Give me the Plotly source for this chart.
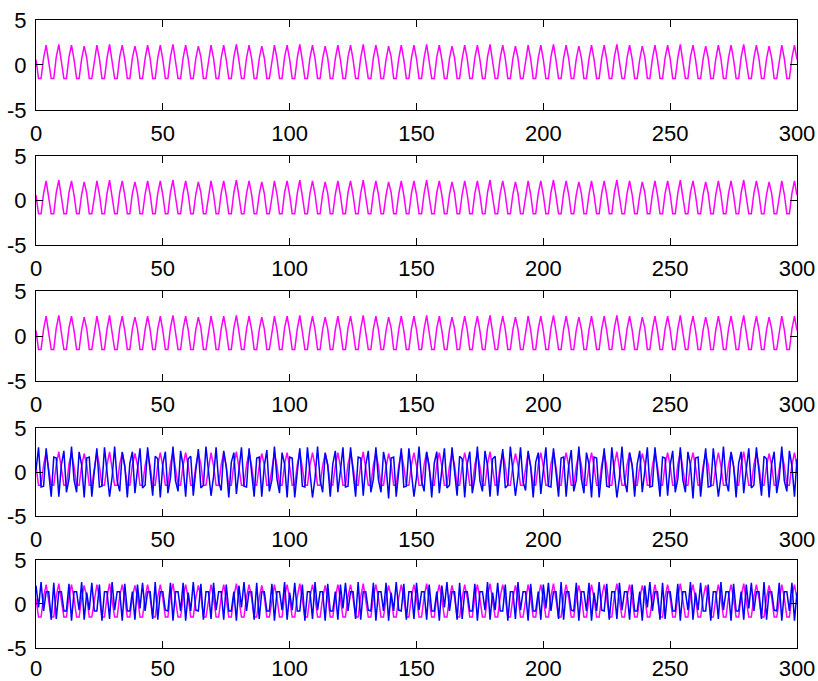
import plotly.graph_objects as go

# sample index 0..300
x_vals = list(range(301))

# magenta signal (same in all panels)
magenta = [
    0.6,-1.5,-1.5,0.8,2.2,0.5,-1.5,-1.5,0.9,2.3,
    0.5,-1.5,-1.5,0.9,2.2,0.6,-1.5,-1.5,0.7,2.1,
    0.8,-1.5,-1.5,0.6,2.2,0.7,-1.5,-1.5,0.8,2.3,
    0.5,-1.5,-1.5,0.9,2.2,0.6,-1.5,-1.5,0.8,2.1,
    0.8,-1.5,-1.5,0.7,2.2,0.7,-1.5,-1.5,0.8,2.2,
    0.6,-1.5,-1.5,0.9,2.3,0.5,-1.5,-1.5,0.8,2.2,
    0.7,-1.5,-1.5,0.7,2.1,0.9,-1.5,-1.5,0.6,2.2,
    0.7,-1.5,-1.5,0.8,2.2,0.6,-1.5,-1.5,0.9,2.3,
    0.5,-1.5,-1.5,0.8,2.2,0.7,-1.5,-1.5,0.7,2.1,
    0.8,-1.5,-1.5,0.6,2.2,0.7,-1.5,-1.5,0.9,2.2,
    0.6,-1.5,-1.5,0.8,2.3,0.5,-1.5,-1.5,0.8,2.2,
    0.7,-1.5,-1.5,0.7,2.1,0.8,-1.5,-1.5,0.7,2.2,
    0.6,-1.5,-1.5,0.9,2.2,0.6,-1.5,-1.5,0.8,2.3,
    0.5,-1.5,-1.5,0.8,2.2,0.7,-1.5,-1.5,0.6,2.1,
    0.9,-1.5,-1.5,0.7,2.2,0.6,-1.5,-1.5,0.8,2.2,
    0.7,-1.5,-1.5,0.8,2.3,0.5,-1.5,-1.5,0.9,2.2,
    0.6,-1.5,-1.5,0.7,2.1,0.8,-1.5,-1.5,0.7,2.2,
    0.7,-1.5,-1.5,0.8,2.2,0.6,-1.5,-1.5,0.9,2.3,
    0.5,-1.5,-1.5,0.8,2.2,0.7,-1.5,-1.5,0.7,2.1,
    0.8,-1.5,-1.5,0.6,2.2,0.7,-1.5,-1.5,0.8,2.2,
    0.6,-1.5,-1.5,0.9,2.3,0.5,-1.5,-1.5,0.8,2.2,
    0.7,-1.5,-1.5,0.7,2.1,0.8,-1.5,-1.5,0.7,2.2,
    0.6,-1.5,-1.5,0.8,2.2,0.6,-1.5,-1.5,0.9,2.3,
    0.5,-1.5,-1.5,0.8,2.2,0.7,-1.5,-1.5,0.6,2.1,
    0.9,-1.5,-1.5,0.7,2.2,0.6,-1.5,-1.5,0.8,2.2,
    0.7,-1.5,-1.5,0.8,2.3,0.5,-1.5,-1.5,0.9,2.2,
    0.6,-1.5,-1.5,0.7,2.1,0.8,-1.5,-1.5,0.7,2.2,
    0.7,-1.5,-1.5,0.8,2.2,0.6,-1.5,-1.5,0.9,2.3,
    0.5,-1.5,-1.5,0.8,2.2,0.7,-1.5,-1.5,0.7,2.1,
    0.8,-1.5,-1.5,0.6,2.2,0.7,-1.5,-1.5,0.8,2.2,
    0.6,
]

# blue signal, panel 4
blue4 = [
    0.2,2.8,-1.7,-1.6,2.7,-0.1,-2.8,1.7,1.6,-2.8,
    0.8,2.4,-2.3,-0.8,2.9,-0.9,-2.3,2.3,0.8,-2.9,
    1.6,1.7,-2.8,0.1,2.7,-1.7,-1.6,2.8,-0.2,-2.8,
    -0.6,2.9,-1.0,-2.2,2.3,0.7,-2.9,1.0,2.3,-2.4,
    0.3,2.7,-1.8,-1.5,2.8,-0.2,-2.7,1.8,1.5,-2.9,
    0.9,2.3,-2.4,-0.7,2.9,-1.0,-2.2,2.4,0.7,-2.8,
    1.5,1.8,-2.7,0.2,2.6,-1.8,-1.5,2.9,-0.3,-2.7,
    -0.5,2.8,-1.1,-2.1,2.4,0.6,-2.9,1.1,2.2,-2.5,
    0.2,2.8,-1.6,-1.7,2.7,0.0,-2.8,1.6,1.7,-2.8,
    0.7,2.5,-2.2,-0.9,2.9,-0.8,-2.4,2.2,0.9,-2.9,
    1.7,1.6,-2.9,0.0,2.7,-1.6,-1.7,2.8,-0.1,-2.9,
    -0.7,2.9,-0.9,-2.3,2.2,0.8,-2.8,0.9,2.4,-2.3,
    0.1,2.8,-1.7,-1.6,2.8,-0.1,-2.8,1.7,1.6,-2.7,
    0.8,2.4,-2.3,-0.8,2.8,-0.9,-2.3,2.3,0.8,-3.0,
    1.6,1.7,-2.8,0.1,2.7,-1.7,-1.6,2.7,-0.2,-2.8,
    -0.6,2.9,-1.0,-2.2,2.3,0.7,-2.9,1.0,2.3,-2.4,
    0.3,2.7,-1.8,-1.5,2.8,-0.2,-2.7,1.8,1.5,-2.9,
    0.9,2.3,-2.4,-0.7,2.9,-1.0,-2.2,2.4,0.7,-2.8,
    1.5,1.8,-2.7,0.2,2.6,-1.8,-1.5,2.9,-0.3,-2.7,
    -0.5,2.8,-1.1,-2.1,2.4,0.6,-2.9,1.1,2.2,-2.5,
    0.2,2.8,-1.6,-1.7,2.7,0.0,-2.8,1.6,1.7,-2.8,
    0.7,2.5,-2.2,-0.9,2.9,-0.8,-2.4,2.2,0.9,-2.9,
    1.7,1.6,-2.9,0.0,2.7,-1.6,-1.7,2.8,-0.1,-2.9,
    -0.7,2.9,-0.9,-2.3,2.2,0.8,-2.8,0.9,2.4,-2.3,
    0.1,2.8,-1.7,-1.6,2.8,-0.1,-2.8,1.7,1.6,-2.7,
    0.8,2.4,-2.3,-0.8,2.8,-0.9,-2.3,2.3,0.8,-3.0,
    1.6,1.7,-2.8,0.1,2.7,-1.7,-1.6,2.7,-0.2,-2.8,
    -0.6,2.9,-1.0,-2.2,2.3,0.7,-2.9,1.0,2.3,-2.4,
    0.3,2.7,-1.8,-1.5,2.8,-0.2,-2.7,1.8,1.5,-2.9,
    0.9,2.3,-2.4,-0.7,2.9,-1.0,-2.2,2.4,0.7,-2.8,
    1.5,
]

# blue signal, panel 5
blue5 = [
    2.1,-0.4,2.5,-0.8,1.4,1.4,-1.8,2.4,-1.7,1.4,
    1.4,-0.8,-0.8,2.3,-1.9,1.4,1.4,-0.7,2.5,-1.8,
    1.3,-0.7,2.4,-0.8,-0.8,2.2,-1.9,1.4,1.4,-1.7,
    2.5,-0.7,1.4,1.4,-1.9,2.3,-0.8,-0.8,1.4,-1.8,
    2.2,-0.5,2.4,-0.8,1.4,1.4,-1.7,2.5,-1.8,1.4,
    1.4,-0.7,-0.8,2.4,-1.9,1.4,1.4,-0.8,2.4,-1.9,
    1.3,-0.8,2.5,-0.7,-0.8,2.3,-1.8,1.4,1.4,-1.7,
    2.4,-0.7,1.4,1.4,-1.8,2.2,-0.8,-0.8,1.4,-1.9,
    2.1,-0.4,2.5,-0.8,1.4,1.4,-1.8,2.4,-1.7,1.4,
    1.4,-0.8,-0.8,2.3,-1.9,1.4,1.4,-0.7,2.5,-1.8,
    1.3,-0.7,2.4,-0.8,-0.8,2.2,-1.9,1.4,1.4,-1.7,
    2.5,-0.7,1.4,1.4,-1.9,2.3,-0.8,-0.8,1.4,-1.8,
    2.2,-0.5,2.4,-0.8,1.4,1.4,-1.7,2.5,-1.8,1.4,
    1.4,-0.7,-0.8,2.4,-1.9,1.4,1.4,-0.8,2.4,-1.9,
    1.3,-0.8,2.5,-0.7,-0.8,2.3,-1.8,1.4,1.4,-1.7,
    2.4,-0.7,1.4,1.4,-1.8,2.2,-0.8,-0.8,1.4,-1.9,
    2.1,-0.4,2.5,-0.8,1.4,1.4,-1.8,2.4,-1.7,1.4,
    1.4,-0.8,-0.8,2.3,-1.9,1.4,1.4,-0.7,2.5,-1.8,
    1.3,-0.7,2.4,-0.8,-0.8,2.2,-1.9,1.4,1.4,-1.7,
    2.5,-0.7,1.4,1.4,-1.9,2.3,-0.8,-0.8,1.4,-1.8,
    2.2,-0.5,2.4,-0.8,1.4,1.4,-1.7,2.5,-1.8,1.4,
    1.4,-0.7,-0.8,2.4,-1.9,1.4,1.4,-0.8,2.4,-1.9,
    1.3,-0.8,2.5,-0.7,-0.8,2.3,-1.8,1.4,1.4,-1.7,
    2.4,-0.7,1.4,1.4,-1.8,2.2,-0.8,-0.8,1.4,-1.9,
    2.1,-0.4,2.5,-0.8,1.4,1.4,-1.8,2.4,-1.7,1.4,
    1.4,-0.8,-0.8,2.3,-1.9,1.4,1.4,-0.7,2.5,-1.8,
    1.3,-0.7,2.4,-0.8,-0.8,2.2,-1.9,1.4,1.4,-1.7,
    2.5,-0.7,1.4,1.4,-1.9,2.3,-0.8,-0.8,1.4,-1.8,
    2.2,-0.5,2.4,-0.8,1.4,1.4,-1.7,2.5,-1.8,1.4,
    1.4,-0.7,-0.8,2.4,-1.9,1.4,1.4,-0.8,2.4,-1.9,
    1.3,
]

x_ticks = [0, 50, 100, 150, 200, 250, 300]
y_ticks = [-5, 0, 5]
y_tick_labels = ["-5", "0", "5"]

panels = [
    [magenta],
    [magenta],
    [magenta],
    [magenta, blue4],
    [magenta, blue5],
]
colors = ["#FF00FF", "#0000FF"]

# vertical domains (paper fractions), top to bottom
domains = [
    [0.8574, 1.0],
    [0.6434, 0.7845],
    [0.4279, 0.5705],
    [0.2139, 0.3534],
    [0.005, 0.1442],
]
x_standoff = [4, 4, 4, 4, 1]

fig = go.Figure()
font = dict(family="Liberation Sans, Arial, sans-serif", size=22, color="black")

layout = dict(
    width=818, height=681,
    margin=dict(l=36, r=21, t=20, b=30),
    paper_bgcolor="white", plot_bgcolor="white",
    showlegend=False,
)

for i, series in enumerate(panels):
    n = "" if i == 0 else str(i + 1)
    for j, s in enumerate(series):
        fig.add_trace(go.Scatter(
            x=x_vals, y=s, mode="lines",
            line=dict(color=colors[j], width=1.5),
            xaxis="x" + n, yaxis="y" + n,
        ))
    layout["xaxis" + n] = dict(
        domain=[0, 1], anchor="y" + n, range=[0, 300],
        tickvals=x_ticks, ticks="inside", ticklen=7, tickcolor="black",
        showline=True, linecolor="black", linewidth=1, mirror="allticks",
        showgrid=False, zeroline=False, tickfont=font, automargin=False,
        ticklabelstandoff=x_standoff[i],
    )
    layout["yaxis" + n] = dict(
        domain=domains[i], anchor="x" + n, range=[-5, 5],
        tickvals=y_ticks, ticktext=y_tick_labels,
        ticks="inside", ticklen=7, tickcolor="black",
        showline=True, linecolor="black", linewidth=1, mirror="allticks",
        showgrid=False, zeroline=False, tickfont=font, automargin=False,
        ticklabelstandoff=4,
    )

fig.update_layout(**layout)
fig.write_html("out.html")
